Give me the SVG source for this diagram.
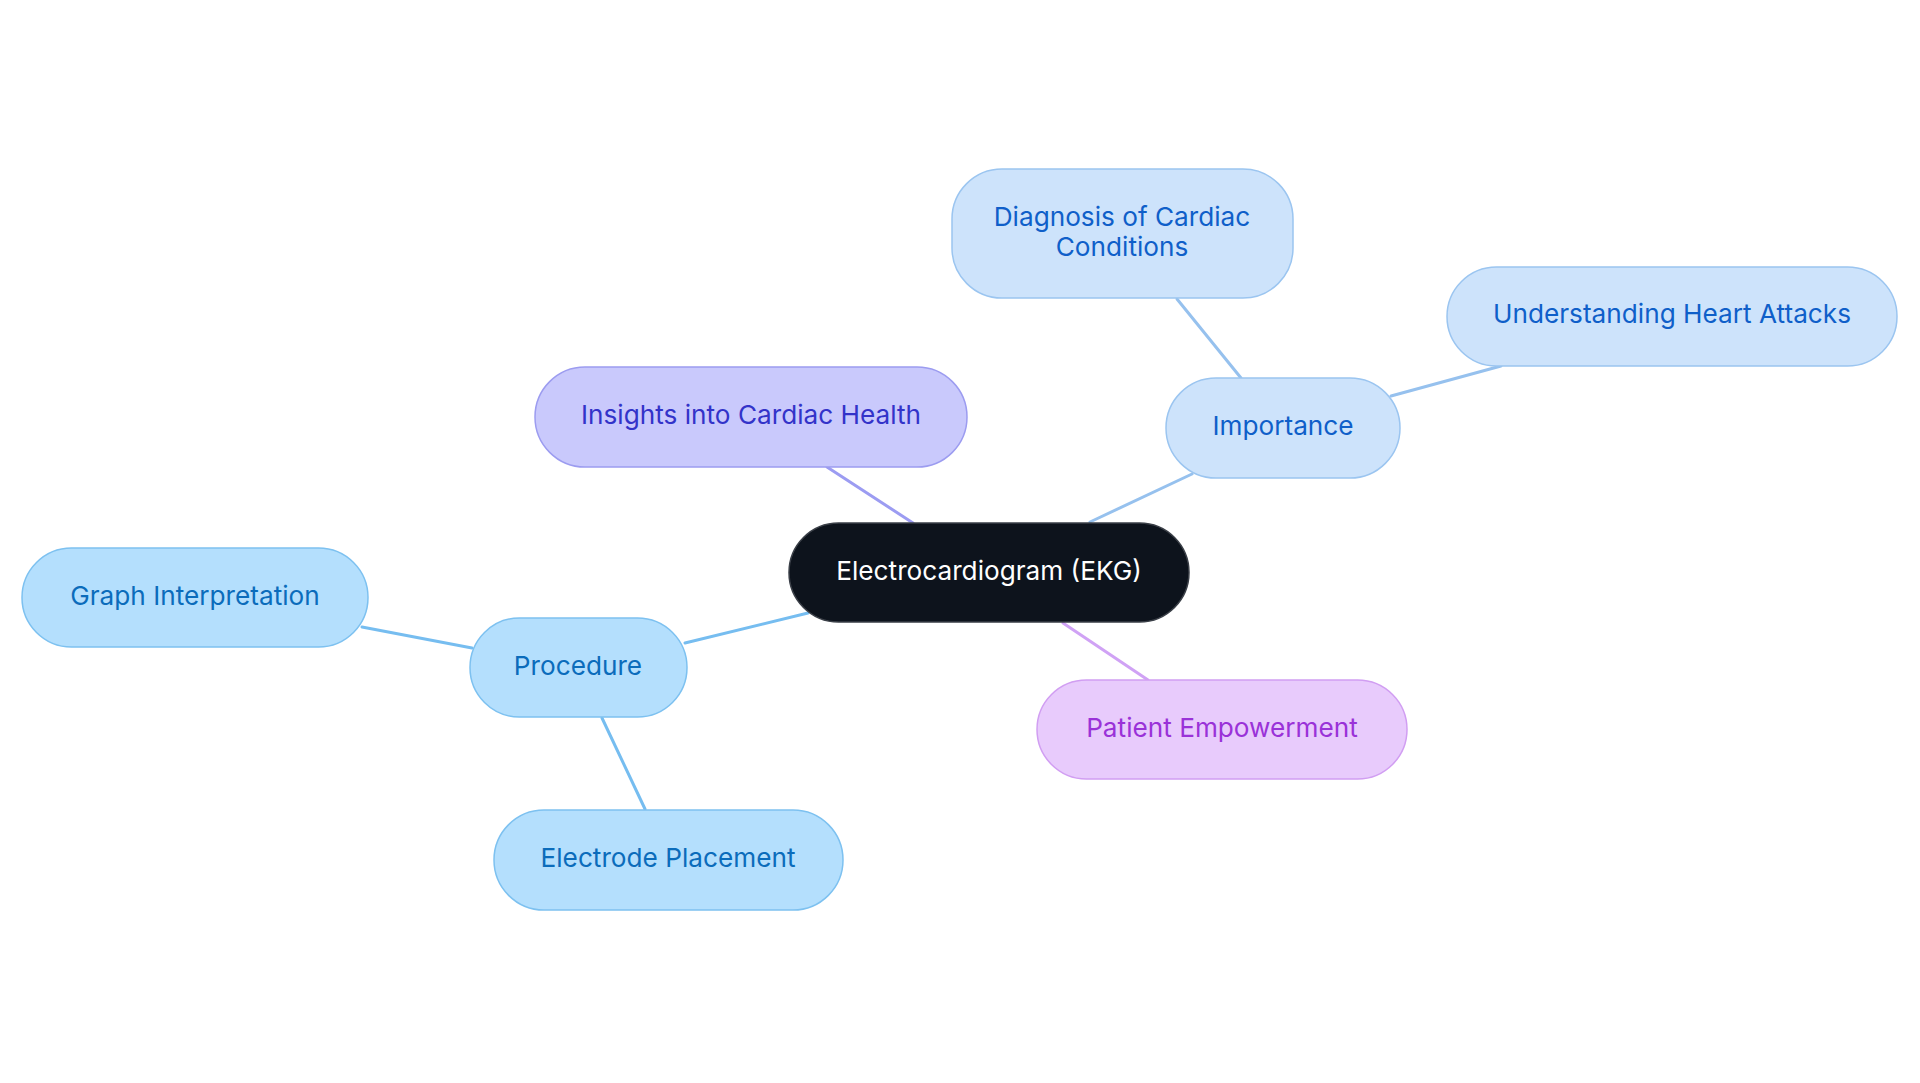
<svg xmlns="http://www.w3.org/2000/svg" width="1920" height="1083" viewBox="0 0 1920 1083">
<style>
text{font-family:Inter,"Noto Sans",sans-serif;font-size:26.2px;text-anchor:middle}
.c{fill:none;stroke-width:3;stroke-linecap:round}
.root rect{fill:#0d131c;stroke:#3a3f47;stroke-width:1.5}
.root text{fill:#ffffff}
.ins rect{fill:#c9c9fc;stroke:#9c9cf0;stroke-width:1.5}
.ins text{fill:#3333c9}
.imp rect{fill:#cde3fb;stroke:#9bc5f0;stroke-width:1.5}
.imp text{fill:#0f5fc9}
.pro rect{fill:#b4dffd;stroke:#7dc1f0;stroke-width:1.5}
.pro text{fill:#0b6cbb}
.pat rect{fill:#e8cbfc;stroke:#d19ef2;stroke-width:1.5}
.pat text{fill:#9a32d8}
</style>
<rect width="1920" height="1083" fill="#ffffff"/>
<g id="connectors">
<line class="c" x1="827" y1="467" x2="913" y2="523" stroke="#9c9cf2"/>
<line class="c" x1="1090" y1="522" x2="1192" y2="474" stroke="#96c1ee"/>
<line class="c" x1="1177" y1="299" x2="1241" y2="378" stroke="#96c1ee"/>
<line class="c" x1="1391" y1="396" x2="1501" y2="366" stroke="#96c1ee"/>
<line class="c" x1="685" y1="643" x2="808" y2="613" stroke="#76bdf0"/>
<line class="c" x1="362" y1="627" x2="472" y2="648" stroke="#76bdf0"/>
<line class="c" x1="602" y1="718" x2="645" y2="809" stroke="#76bdf0"/>
<line class="c" x1="1063" y1="623" x2="1148" y2="680" stroke="#d0a2f5"/>
</g>
<g id="root" class="root">
<rect x="789" y="523" width="400" height="99" rx="49.5"/>
<text x="989" y="580">Electrocardiogram (EKG)</text>
</g>
<g id="insights" class="ins">
<rect x="535" y="367" width="432" height="100" rx="50"/>
<text x="751" y="424">Insights into Cardiac Health</text>
</g>
<g id="importance" class="imp">
<rect x="1166" y="378" width="234" height="100" rx="50"/>
<text x="1283" y="435">Importance</text>
</g>
<g id="diagnosis" class="imp">
<rect x="952" y="169" width="341" height="129" rx="50"/>
<text x="1122" y="226">Diagnosis of Cardiac</text>
<text x="1122" y="256">Conditions</text>
</g>
<g id="understanding" class="imp">
<rect x="1447" y="267" width="450" height="99" rx="49.5"/>
<text x="1672" y="323">Understanding Heart Attacks</text>
</g>
<g id="procedure" class="pro">
<rect x="470" y="618" width="217" height="99" rx="49.5"/>
<text x="578" y="675">Procedure</text>
</g>
<g id="graph" class="pro">
<rect x="22" y="548" width="346" height="99" rx="49.5"/>
<text x="195" y="605">Graph Interpretation</text>
</g>
<g id="electrode" class="pro">
<rect x="494" y="810" width="349" height="100" rx="50"/>
<text x="668" y="867">Electrode Placement</text>
</g>
<g id="patient" class="pat">
<rect x="1037" y="680" width="370" height="99" rx="49.5"/>
<text x="1222" y="737">Patient Empowerment</text>
</g>
</svg>
